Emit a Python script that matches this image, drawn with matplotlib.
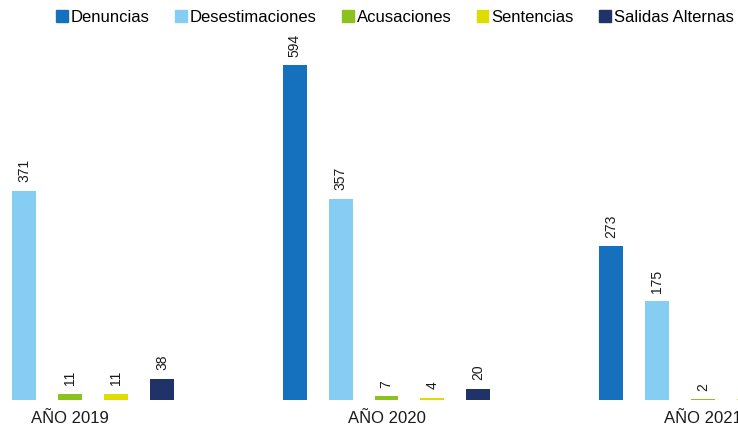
import numpy as np
import matplotlib.pyplot as plt
from matplotlib.patches import Patch

plt.rcParams["font.family"] = ["Liberation Sans", "DejaVu Sans"]

years = ["AÑO 2019", "AÑO 2020", "AÑO 2021"]
series = ["Denuncias", "Desestimaciones", "Acusaciones", "Sentencias", "Salidas Alternas"]
denuncias = [np.nan, 594, 273]
desestimaciones = [371, 357, 175]
acusaciones = [11, 7, 2]
sentencias = [11, 4, 1]
salidas = [38, 20, np.nan]
colors = ["#1570bd", "#86cdf3", "#8cc21e", "#dedc00", "#1f3368"]

values = [denuncias, desestimaciones, acusaciones, sentencias, salidas]

W, H = 738, 430
fig = plt.figure(figsize=(W / 100, H / 100), dpi=100)
ax = fig.add_axes([0, 30 / H, 1, 400 / H])

step = 0.1453
width = 0.0758
x = np.arange(len(years))
for j, (name, vals, c) in enumerate(zip(series, values, colors)):
    pos = x + (j - 2) * step
    ax.bar(pos, vals, width, color=c, label=name)
    for p, v in zip(pos, vals):
        if np.isnan(v):
            continue
        ax.annotate(f"{v:g}", (p, v), xytext=(0, 6), textcoords="offset points",
                    rotation=90, ha="center", va="bottom", fontsize=10, color="#1a1a1a")

ax.set_xlim((0 - 70) / 316.5, (W - 70) / 316.5)
ax.set_ylim(0, 400 / 0.564)
ax.set_xticks(x)
ax.set_xticklabels(years, fontsize=12, color="#1a1a1a")
ax.tick_params(axis="x", length=0, pad=8)
ax.tick_params(axis="y", left=False, labelleft=False)
for s in ax.spines.values():
    s.set_visible(False)

handles = [Patch(color=c, label=n) for n, c in zip(series, colors)]
fig.legend(handles=handles, loc="center", bbox_to_anchor=(395 / W, 1 - 17 / H),
           ncol=5, frameon=False, fontsize=12, handlelength=0.7, handleheight=0.7,
           handletextpad=0.2, columnspacing=1.5, borderpad=0)

fig.savefig("out.png", dpi=100)
